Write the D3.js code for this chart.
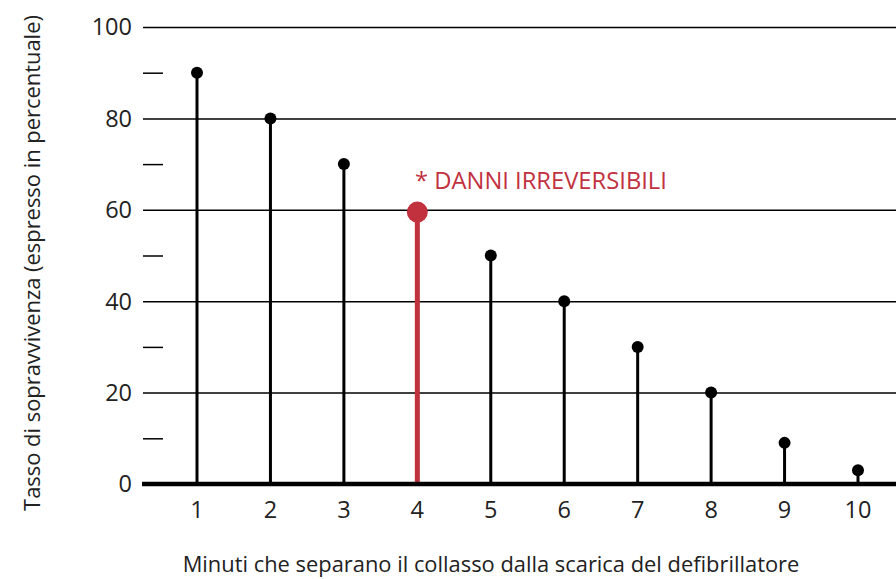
<!DOCTYPE html>
<html>
<head>
<meta charset="utf-8">
<script src="https://cdn.jsdelivr.net/npm/d3@7"></script>
<style>
  body { margin: 0; background: #fff; }
  text { font-family: "Open Sans", "Noto Sans", sans-serif; }
</style>
</head>
<body>
<div class="container"></div>
<script>
// data
var minutes = [1, 2, 3, 4, 5, 6, 7, 8, 9, 10]
var survival = [90, 80, 70, 59.5, 50, 40, 30, 20, 9, 3]
var majorTicks = [0, 20, 40, 60, 80, 100]
var minorTicks = [10, 30, 50, 70, 90]
var highlightMinute = 4
var noteText = '* DANNI IRREVERSIBILI'
var xTitle = 'Minuti che separano il collasso dalla scarica del defibrillatore'
var yTitle = 'Tasso di sopravvivenza (espresso in percentuale)'

var W = 896, H = 579
var red = '#c1313e'

var svg = d3.select('.container').append('svg')
    .attr('width', W)
    .attr('height', H)

var x = d3.scaleLinear().domain([1, 10]).range([197, 858])
var y = d3.scaleLinear().domain([0, 100]).range([484, 27])

// horizontal grid (major)
var yAxis = d3.axisRight(y)
    .tickValues(majorTicks.filter(function (d) { return d > 0 }))
    .tickSize(W - 143)
    .tickFormat('')
var gGrid = svg.append('g').attr('transform', 'translate(143,0)').call(yAxis)
gGrid.select('.domain').remove()
gGrid.selectAll('line').attr('stroke', '#000').attr('stroke-width', 1.5)

// minor dashes
var yMinor = d3.axisRight(y).tickValues(minorTicks).tickSize(20).tickFormat('')
var gMinor = svg.append('g').attr('transform', 'translate(143,0)').call(yMinor)
gMinor.select('.domain').remove()
gMinor.selectAll('line').attr('stroke', '#000').attr('stroke-width', 1.5)

// y labels
svg.append('g').selectAll('text').data(majorTicks).enter().append('text')
    .attr('x', 132)
    .attr('y', function (d) { return y(d) })
    .attr('dy', '0.36em')
    .attr('text-anchor', 'end')
    .attr('font-size', 23.5)
    .attr('fill', '#222')
    .text(function (d) { return d })

// x labels
svg.append('g').selectAll('text').data(minutes).enter().append('text')
    .attr('x', function (d) { return x(d) })
    .attr('y', 518)
    .attr('text-anchor', 'middle')
    .attr('font-size', 23.5)
    .attr('fill', '#222')
    .text(function (d) { return d })

var pts = minutes.map(function (m, i) { return { m: m, v: survival[i] } })

// stems
svg.append('g').selectAll('line').data(pts).enter().append('line')
    .attr('x1', function (d) { return x(d.m) })
    .attr('x2', function (d) { return x(d.m) })
    .attr('y1', y(0))
    .attr('y2', function (d) { return y(d.v) })
    .attr('stroke', function (d) { return d.m === highlightMinute ? red : '#000' })
    .attr('stroke-width', function (d) { return d.m === highlightMinute ? 5 : 3 })

// baseline
svg.append('line')
    .attr('x1', 142).attr('x2', W)
    .attr('y1', y(0)).attr('y2', y(0))
    .attr('stroke', '#000').attr('stroke-width', 4.5)

// dots
svg.append('g').selectAll('circle').data(pts).enter().append('circle')
    .attr('cx', function (d) { return x(d.m) })
    .attr('cy', function (d) { return y(d.v) })
    .attr('r', function (d) { return d.m === highlightMinute ? 10.5 : 6 })
    .attr('fill', function (d) { return d.m === highlightMinute ? red : '#000' })

// fit text widths to the reference
function fit(sel, w) {
  var len = sel.node().getComputedTextLength()
  sel.attr('font-size', +sel.attr('font-size') * w / len)
}

var note = svg.append('text')
    .attr('x', 415)
    .attr('y', 189)
    .attr('font-size', 20)
    .attr('fill', red)
    .text(noteText)
fit(note, 252)

var xt = svg.append('text')
    .attr('x', 491)
    .attr('y', 572)
    .attr('text-anchor', 'middle')
    .attr('font-size', 18)
    .attr('fill', '#222')
    .text(xTitle)
fit(xt, 617)

var yt = svg.append('text')
    .attr('transform', 'translate(40,263) rotate(-90)')
    .attr('text-anchor', 'middle')
    .attr('font-size', 18)
    .attr('fill', '#222')
    .text(yTitle)
fit(yt, 496)
</script>
</body>
</html>
